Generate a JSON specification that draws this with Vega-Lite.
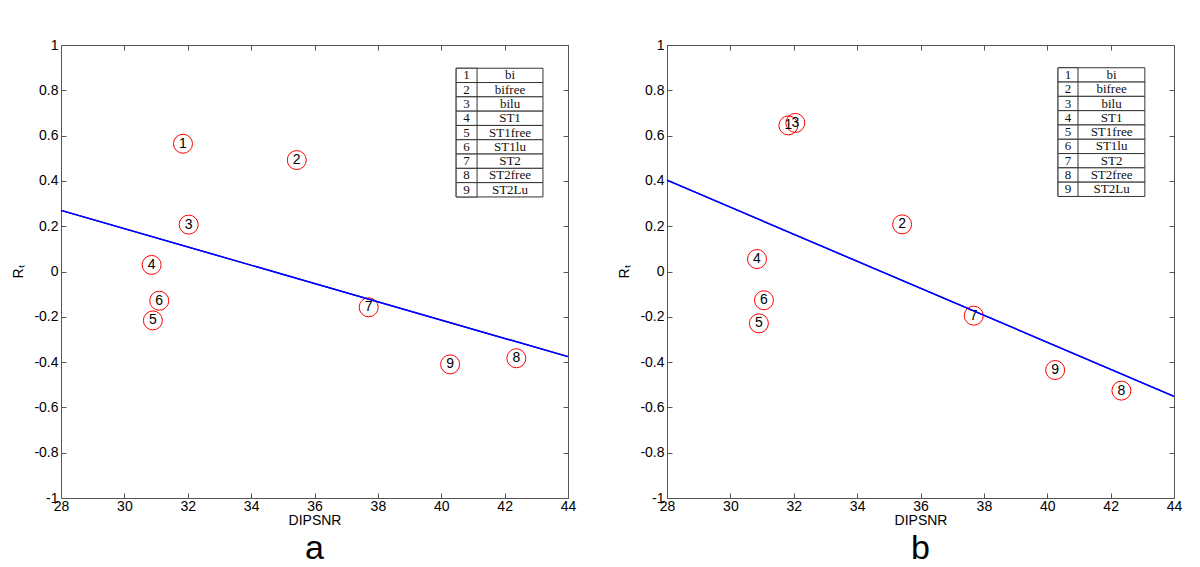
{
  "$schema": "https://vega.github.io/schema/vega-lite/v6.json",
  "background": "white",
  "padding": {"left": 11, "top": 37, "right": 5, "bottom": 2},
  "bounds": "flush",
  "spacing": 99,
  "datasets": {
    "pointsA": [
      {"id": 1, "dipsnr": 31.85, "rt": 0.564},
      {"id": 2, "dipsnr": 35.44, "rt": 0.492},
      {"id": 3, "dipsnr": 32.03, "rt": 0.207},
      {"id": 4, "dipsnr": 30.86, "rt": 0.029},
      {"id": 5, "dipsnr": 30.9, "rt": -0.216},
      {"id": 6, "dipsnr": 31.1, "rt": -0.129},
      {"id": 7, "dipsnr": 37.71, "rt": -0.158},
      {"id": 8, "dipsnr": 42.37, "rt": -0.383},
      {"id": 9, "dipsnr": 40.28, "rt": -0.41}
    ],
    "pointsB": [
      {"id": 1, "dipsnr": 31.83, "rt": 0.645},
      {"id": 2, "dipsnr": 35.42, "rt": 0.208},
      {"id": 3, "dipsnr": 32.05, "rt": 0.656},
      {"id": 4, "dipsnr": 30.84, "rt": 0.055},
      {"id": 5, "dipsnr": 30.9, "rt": -0.229},
      {"id": 6, "dipsnr": 31.06, "rt": -0.127},
      {"id": 7, "dipsnr": 37.68, "rt": -0.195},
      {"id": 8, "dipsnr": 42.34, "rt": -0.526},
      {"id": 9, "dipsnr": 40.25, "rt": -0.435}
    ],
    "lineA": [
      {"dipsnr": 28, "rt": 0.27},
      {"dipsnr": 44, "rt": -0.376}
    ],
    "lineB": [
      {"dipsnr": 28, "rt": 0.403},
      {"dipsnr": 44, "rt": -0.551}
    ],
    "table": [
      {"id": 1, "name": "bi"},
      {"id": 2, "name": "bifree"},
      {"id": 3, "name": "bilu"},
      {"id": 4, "name": "ST1"},
      {"id": 5, "name": "ST1free"},
      {"id": 6, "name": "ST1lu"},
      {"id": 7, "name": "ST2"},
      {"id": 8, "name": "ST2free"},
      {"id": 9, "name": "ST2Lu"}
    ]
  },
  "hconcat": [
    {
      "width": 507,
      "height": 453,
      "title": {"text": "a", "orient": "bottom", "fontSize": 34, "fontWeight": "normal", "font": "Liberation Sans", "offset": 5},
      "resolve": {"scale": {"x": "independent", "y": "independent"}, "axis": {"x": "independent", "y": "independent"}},
      "layer": [
        {
          "layer": [
            {
              "data": {"name": "lineA"},
              "mark": {"type": "line", "color": "#0000ff", "strokeWidth": 1.4},
              "encoding": {
                "x": {"field": "dipsnr", "type": "quantitative", "scale": {"domain": [28, 44], "nice": false, "zero": false}, "axis": {"orient": "bottom", "title": "DIPSNR", "values": [28, 30, 32, 34, 36, 38, 40, 42, 44]}},
                "y": {"field": "rt", "type": "quantitative", "scale": {"domain": [-1, 1], "nice": false, "zero": false}, "axis": {"orient": "left", "title": "Rₜ", "values": [-1, -0.8, -0.6, -0.4, -0.2, 0, 0.2, 0.4, 0.6, 0.8, 1], "labelExpr": "replace(format(datum.value, '~g'), '−', '-')"}}
              }
            },
            {
              "data": {"name": "pointsA"},
              "mark": {"type": "point", "shape": "circle", "size": 361, "filled": false, "stroke": "#ff0000", "strokeWidth": 1, "opacity": 1},
              "encoding": {
                "x": {"field": "dipsnr", "type": "quantitative"},
                "y": {"field": "rt", "type": "quantitative"}
              }
            },
            {
              "data": {"name": "pointsA"},
              "mark": {"type": "text", "font": "Liberation Sans", "fontSize": 14, "color": "#000", "align": "center", "baseline": "middle"},
              "encoding": {
                "x": {"field": "dipsnr", "type": "quantitative"},
                "y": {"field": "rt", "type": "quantitative"},
                "text": {"field": "id"}
              }
            }
          ]
        },
        {
          "data": {"name": "table"},
          "layer": [
            {
              "mark": {"type": "rect", "fill": "white", "stroke": "#333", "strokeWidth": 1},
              "encoding": {
                "x": {"datum": 40.47, "type": "quantitative", "scale": {"domain": [28, 44], "nice": false, "zero": false}, "axis": null},
                "x2": {"datum": 43.21},
                "y": {"field": "id", "type": "ordinal", "scale": {"type": "band", "domain": [0, 1, 2, 3, 4, 5, 6, 7, 8, 9, 10, 11, 12, 13, 14, 15, 16, 17, 18, 19, 20, 21, 22, 23, 24, 25, 26, 27, 28, 29, 30], "paddingInner": 0, "paddingOuter": 0.34, "align": 0.92}, "axis": null}
              }
            },
            {
              "mark": {"type": "rect", "fill": "white", "stroke": "#333", "strokeWidth": 1},
              "encoding": {
                "x": {"datum": 40.47, "type": "quantitative"},
                "x2": {"datum": 41.13},
                "y": {"field": "id", "type": "ordinal"}
              }
            },
            {
              "mark": {"type": "text", "font": "Liberation Serif", "fontSize": 13, "color": "#111", "align": "center", "baseline": "middle"},
              "encoding": {
                "x": {"datum": 40.8, "type": "quantitative"},
                "y": {"field": "id", "type": "ordinal"},
                "text": {"field": "id"}
              }
            },
            {
              "mark": {"type": "text", "font": "Liberation Serif", "fontSize": 13, "color": "#111", "align": "center", "baseline": "middle"},
              "encoding": {
                "x": {"datum": 42.17, "type": "quantitative"},
                "y": {"field": "id", "type": "ordinal"},
                "text": {"field": "name"}
              }
            }
          ]
        },
        {
          "data": {"name": "lineA"},
          "mark": {"type": "line", "color": "#0000ff", "strokeWidth": 1.4},
          "encoding": {
            "x": {"field": "dipsnr", "type": "quantitative", "scale": {"domain": [28, 44], "nice": false, "zero": false}, "axis": {"orient": "top", "title": null, "labels": false, "values": [28, 30, 32, 34, 36, 38, 40, 42, 44]}},
            "y": {"field": "rt", "type": "quantitative", "scale": {"domain": [-1, 1], "nice": false, "zero": false}, "axis": {"orient": "right", "title": null, "labels": false, "values": [-1, -0.8, -0.6, -0.4, -0.2, 0, 0.2, 0.4, 0.6, 0.8, 1]}}
          }
        }
      ]
    },
    {
      "width": 507,
      "height": 453,
      "title": {"text": "b", "orient": "bottom", "fontSize": 34, "fontWeight": "normal", "font": "Liberation Sans", "offset": 5},
      "resolve": {"scale": {"x": "independent", "y": "independent"}, "axis": {"x": "independent", "y": "independent"}},
      "layer": [
        {
          "layer": [
            {
              "data": {"name": "lineB"},
              "mark": {"type": "line", "color": "#0000ff", "strokeWidth": 1.4},
              "encoding": {
                "x": {"field": "dipsnr", "type": "quantitative", "scale": {"domain": [28, 44], "nice": false, "zero": false}, "axis": {"orient": "bottom", "title": "DIPSNR", "values": [28, 30, 32, 34, 36, 38, 40, 42, 44]}},
                "y": {"field": "rt", "type": "quantitative", "scale": {"domain": [-1, 1], "nice": false, "zero": false}, "axis": {"orient": "left", "title": "Rₜ", "values": [-1, -0.8, -0.6, -0.4, -0.2, 0, 0.2, 0.4, 0.6, 0.8, 1], "labelExpr": "replace(format(datum.value, '~g'), '−', '-')"}}
              }
            },
            {
              "data": {"name": "pointsB"},
              "mark": {"type": "point", "shape": "circle", "size": 361, "filled": false, "stroke": "#ff0000", "strokeWidth": 1, "opacity": 1},
              "encoding": {
                "x": {"field": "dipsnr", "type": "quantitative"},
                "y": {"field": "rt", "type": "quantitative"}
              }
            },
            {
              "data": {"name": "pointsB"},
              "mark": {"type": "text", "font": "Liberation Sans", "fontSize": 14, "color": "#000", "align": "center", "baseline": "middle"},
              "encoding": {
                "x": {"field": "dipsnr", "type": "quantitative"},
                "y": {"field": "rt", "type": "quantitative"},
                "text": {"field": "id"}
              }
            }
          ]
        },
        {
          "data": {"name": "table"},
          "layer": [
            {
              "mark": {"type": "rect", "fill": "white", "stroke": "#333", "strokeWidth": 1},
              "encoding": {
                "x": {"datum": 40.34, "type": "quantitative", "scale": {"domain": [28, 44], "nice": false, "zero": false}, "axis": null},
                "x2": {"datum": 43.08},
                "y": {"field": "id", "type": "ordinal", "scale": {"type": "band", "domain": [0, 1, 2, 3, 4, 5, 6, 7, 8, 9, 10, 11, 12, 13, 14, 15, 16, 17, 18, 19, 20, 21, 22, 23, 24, 25, 26, 27, 28, 29, 30], "paddingInner": 0, "paddingOuter": 0.34, "align": 0.87}, "axis": null}
              }
            },
            {
              "mark": {"type": "rect", "fill": "white", "stroke": "#333", "strokeWidth": 1},
              "encoding": {
                "x": {"datum": 40.34, "type": "quantitative"},
                "x2": {"datum": 40.97},
                "y": {"field": "id", "type": "ordinal"}
              }
            },
            {
              "mark": {"type": "text", "font": "Liberation Serif", "fontSize": 13, "color": "#111", "align": "center", "baseline": "middle"},
              "encoding": {
                "x": {"datum": 40.655, "type": "quantitative"},
                "y": {"field": "id", "type": "ordinal"},
                "text": {"field": "id"}
              }
            },
            {
              "mark": {"type": "text", "font": "Liberation Serif", "fontSize": 13, "color": "#111", "align": "center", "baseline": "middle"},
              "encoding": {
                "x": {"datum": 42.03, "type": "quantitative"},
                "y": {"field": "id", "type": "ordinal"},
                "text": {"field": "name"}
              }
            }
          ]
        },
        {
          "data": {"name": "lineB"},
          "mark": {"type": "line", "color": "#0000ff", "strokeWidth": 1.4},
          "encoding": {
            "x": {"field": "dipsnr", "type": "quantitative", "scale": {"domain": [28, 44], "nice": false, "zero": false}, "axis": {"orient": "top", "title": null, "labels": false, "values": [28, 30, 32, 34, 36, 38, 40, 42, 44]}},
            "y": {"field": "rt", "type": "quantitative", "scale": {"domain": [-1, 1], "nice": false, "zero": false}, "axis": {"orient": "right", "title": null, "labels": false, "values": [-1, -0.8, -0.6, -0.4, -0.2, 0, 0.2, 0.4, 0.6, 0.8, 1]}}
          }
        }
      ]
    }
  ],
  "config": {
    "font": "Liberation Sans",
    "view": {"stroke": "#555", "strokeWidth": 1},
    "axis": {
      "domain": false,
      "grid": false,
      "ticks": true,
      "tickColor": "#555",
      "tickSize": -5,
      "labelPadding": 8,
      "labelFlush": false,
      "labelOverlap": false,
      "labelBound": false,
      "labelFont": "Liberation Sans",
      "labelFontSize": 14,
      "labelColor": "#000",
      "titleFont": "Liberation Sans",
      "titleFontSize": 14,
      "titleFontWeight": "normal",
      "titleColor": "#000"
    },
    "axisX": {"labelPadding": 6, "titlePadding": 0},
    "axisY": {"titlePadding": 8}
  }
}
